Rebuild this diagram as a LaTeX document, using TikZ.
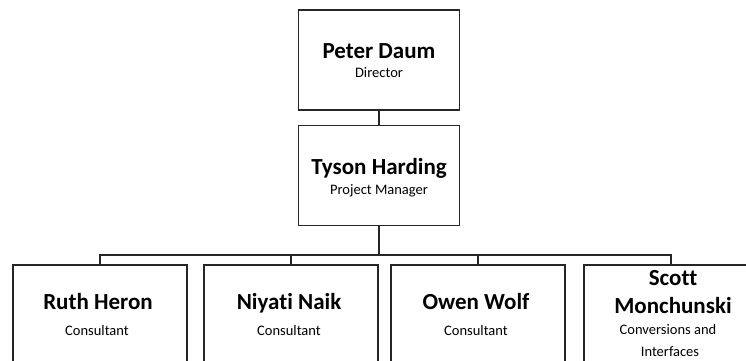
\documentclass[tikz,border=0pt]{standalone}
\usepackage{fontspec}
\setmainfont[RawFeature=-liga]{Carlito}
\begin{document}
\begin{tikzpicture}[x=1pt,y=-1pt,
  box/.style={draw=black!85,line width=1.3pt,fill=white,rectangle,inner sep=0pt},
  topbox/.style={box,minimum width=161pt,minimum height=100pt},
  botbox/.style={box,minimum width=174pt,minimum height=130pt},
  pname/.style={font=\fontsize{23}{26}\selectfont\bfseries,anchor=base,inner sep=0pt},
  ptitle/.style={font=\fontsize{14.5}{17}\selectfont,anchor=base,inner sep=0pt},
  conn/.style={draw=black!85,line width=1.3pt}]
\useasboundingbox (0,0) rectangle (746,360);
\clip (0,0) rectangle (746,360);
\fill[white] (0,0) rectangle (746,360);
% top boxes
\node[topbox] (peter) at (379,60) {};
\node[topbox,minimum height=100pt] (tyson) at (379,175.5) {};
\node[pname] (peterN) at (379,58) {Peter Daum};
\node[ptitle] (peterT) at (379,77) {Director};
\node[pname] (tysonN) at (379,174) {Tyson Harding};
\node[ptitle] (tysonT) at (379,194) {Project Manager};
% bottom boxes
\node[botbox] (ruth) at (100,330) {};
\node[botbox] (niyati) at (291,330) {};
\node[botbox] (owen) at (478,330) {};
\node[botbox] (scott) at (671,330) {};
\node[pname] at (98,309) {Ruth Heron};
\node[ptitle] at (97,335) {Consultant};
\node[pname] at (289,309) {Niyati Naik};
\node[ptitle] at (289,335) {Consultant};
\node[pname] at (476,309) {Owen Wolf};
\node[ptitle] at (476,335) {Consultant};
\node[pname] at (673,285) {Scott};
\node[pname] at (673,313) {Monchunski};
\node[ptitle] at (668,334) {Conversions and};
\node[ptitle] at (670,356) {Interfaces};
% connectors
\coordinate (bus) at (379,255);
\draw[conn] (peter.south) -- (tyson.north);
\draw[conn] (tyson.south) -- (bus);
\draw[conn] (ruth.north) |- (bus) -| (scott.north);
\draw[conn] (niyati.north) -- (niyati.north |- bus);
\draw[conn] (owen.north) -- (owen.north |- bus);
\end{tikzpicture}
\end{document}
